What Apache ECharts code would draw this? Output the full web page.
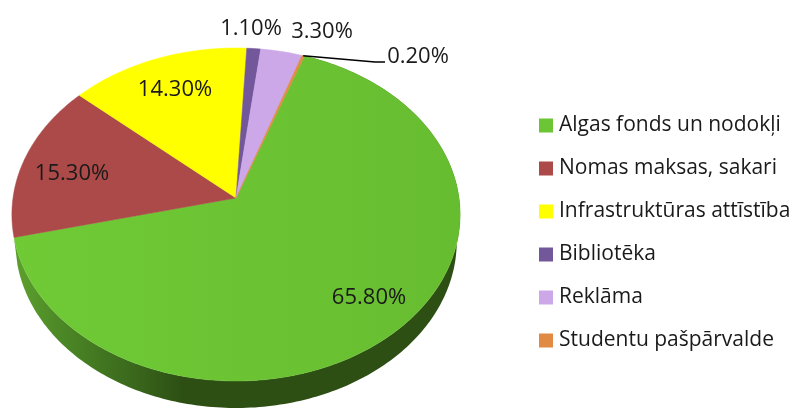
<!DOCTYPE html>
<html>
<head>
<meta charset="utf-8">
<style>
  html, body { margin: 0; padding: 0; background: #fff; }
  #chart { width: 792px; height: 408px; }
</style>
<script src="https://cdn.jsdelivr.net/npm/echarts@6/dist/echarts.min.js"></script>
</head>
<body>
<div id="chart"></div>
<script>
var categories = ['Algas fonds un nodokļi', 'Nomas maksas, sakari', 'Infrastruktūras attīstība', 'Bibliotēka', 'Reklāma', 'Studentu pašpārvalde'];
var shares = [65.8, 15.3, 14.3, 1.1, 3.3, 0.2];
var colors = ['#6cc534', '#ab4a48', '#ffff00', '#72579a', '#cca8e8', '#e08a43'];

// pie seen in perspective: the tip sits above the middle of the ellipse
var tipX = 236, tipY = 198, scaleX = 223, scaleY = -145.24, persp = 0.0991;
var depth = 27, bottomShrink = 0.985, firstAngle = 19.6;
var labelSpots = [[369, 298], [72, 174], [175, 90], [251, 29], [322, 32], [418, 57]];

function project(deg, r) {
    var a = deg * Math.PI / 180;
    var u = Math.sin(a) * r, v = Math.cos(a) * r;
    var w = 1 + persp * v;
    return [tipX + scaleX * u / w, (tipY + scaleY * v) / w];
}

function arc(from, to, dy, shrink) {
    var pts = [];
    var n = Math.max(2, Math.ceil(to - from));
    for (var i = 0; i <= n; i++) {
        var p = project(from + (to - from) * i / n, 1);
        pts.push([tipX + (p[0] - tipX) * shrink, p[1] + dy]);
    }
    return pts;
}

var greenSide = new echarts.graphic.LinearGradient(12, 0, 460, 0, [
    { offset: 0, color: '#5fa22e' },
    { offset: 0.1, color: '#4d8a27' },
    { offset: 0.27, color: '#3a681c' },
    { offset: 0.38, color: '#2d4f14' },
    { offset: 1, color: '#2d4f14' }
], true);
var greenTop = new echarts.graphic.LinearGradient(12, 0, 460, 0, [
    { offset: 0, color: '#70ca36' },
    { offset: 1, color: '#67bd30' }
], true);

function makeRender(i) {
    return function (params, api) {
        var start = firstAngle;
        for (var k = 0; k < i; k++) start += shares[k] * 3.6;
        var end = start + api.value(0) * 3.6;
        var children = [];

        // only the big slice has a side wall that shows
        if (i === 0) {
            children.push({
                type: 'polygon',
                shape: { points: arc(start, end, 0, 1).concat(arc(start, end, depth, bottomShrink).reverse()) },
                style: { fill: greenSide }
            });
        }

        var fill = i === 0 ? greenTop : colors[i];
        children.push({
            type: 'polygon',
            shape: { points: [[tipX, tipY]].concat(arc(start, end, 0, 1)) },
            style: { fill: fill, stroke: fill, lineWidth: 0.5 }
        });

        // the smallest slice gets a leader line
        if (i === 5) {
            var p = project((start + end) / 2, 1);
            children.push({
                type: 'polyline',
                shape: { points: [p, [375, 62], [385, 62]] },
                style: { fill: null, stroke: '#000', lineWidth: 1.5 }
            });
        }

        children.push({
            type: 'text',
            z2: 10,
            style: {
                x: labelSpots[i][0],
                y: labelSpots[i][1],
                text: api.value(0).toFixed(2) + '%',
                fill: '#1a1a1a',
                font: '22px "Open Sans"',
                align: 'center',
                verticalAlign: 'middle'
            }
        });
        return { type: 'group', children: children };
    };
}

var series = [];
categories.forEach(function (name, i) {
    series.push({
        name: name,
        type: 'custom',
        coordinateSystem: 'none',
        silent: true,
        animation: false,
        itemStyle: { color: colors[i] },
        data: [[shares[i]]],
        renderItem: makeRender(i)
    });
});

var myChart = echarts.init(document.getElementById('chart'));
myChart.setOption({
    animation: false,
    backgroundColor: '#fff',
    legend: {
        data: categories,
        orient: 'vertical',
        left: 534,
        top: 110,
        padding: [5, 0, 5, 5],
        icon: 'rect',
        itemWidth: 14,
        itemHeight: 14,
        itemGap: 22,
        selectedMode: false,
        textStyle: { color: '#1a1a1a', fontFamily: 'Open Sans', fontSize: 21, lineHeight: 14, padding: [0, 0, 0, 1] }
    },
    series: series
});
</script>
</body>
</html>
